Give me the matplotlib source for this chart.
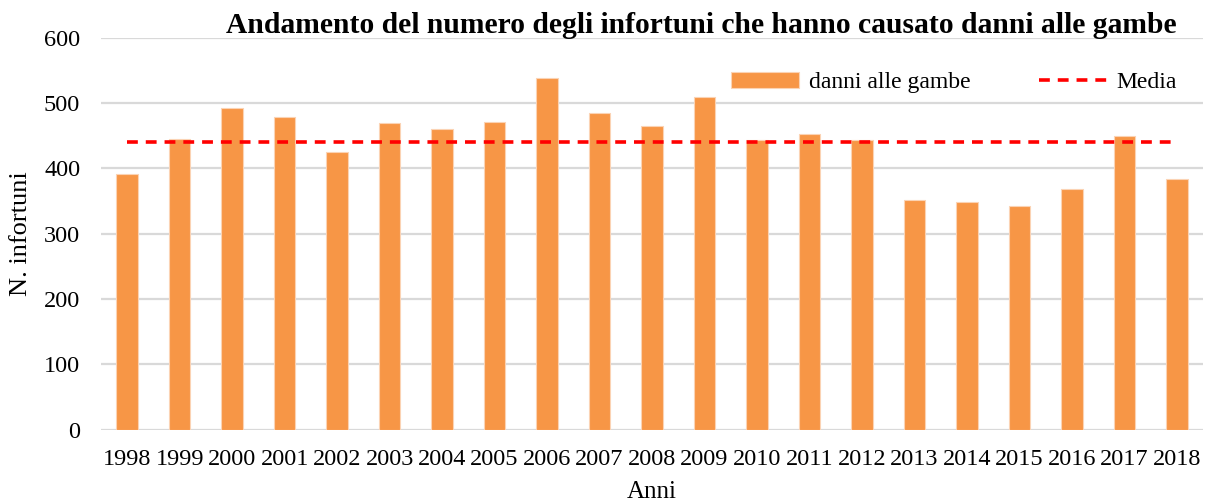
import matplotlib
matplotlib.use("Agg")
import matplotlib.pyplot as plt
import numpy as np

years = ["1998", "1999", "2000", "2001", "2002", "2003", "2004", "2005", "2006", "2007",
         "2008", "2009", "2010", "2011", "2012", "2013", "2014", "2015", "2016", "2017", "2018"]
danni_gambe = [391, 445, 493, 478, 425, 470, 460, 471, 539, 485,
               465, 509, 443, 453, 443, 352, 349, 342, 368, 450, 384]
media_value = 441

title = "Andamento del numero degli infortuni che hanno causato danni alle gambe"
ylabel = "N. infortuni"
xlabel = "Anni"
yticks = [0, 100, 200, 300, 400, 500, 600]

plt.rcParams['font.family'] = ['Liberation Serif', 'DejaVu Serif']

W, H = 1205, 504
fig = plt.figure(figsize=(W / 100, H / 100), dpi=100)
ax = fig.add_axes([101 / W, (H - 429.7) / H, (1203 - 101) / W, (429.7 - 37.7) / H])

x = np.arange(len(years))
bars = ax.bar(x, danni_gambe, width=0.41, color="#F79646", edgecolor="#FBD3B4",
              linewidth=0.8, label="danni alle gambe", zorder=2)
line, = ax.plot(x, [media_value] * len(years), color="#FF0000", linestyle=(0, (3, 2.2)),
                linewidth=2.6, label="Media", zorder=3)

ax.set_xlim(-0.5, len(years) - 0.5)
ax.set_ylim(0, 600)
ax.set_yticks(yticks)
ax.set_xticks(x)
ax.set_xticklabels(years)
ax.tick_params(axis="both", length=0, labelsize=17.5, colors="black")
ax.tick_params(axis="y", pad=15)
ax.tick_params(axis="x", pad=14)
ax.grid(axis="y", color="#D9D9D9", linewidth=1.6, zorder=0)
ax.set_axisbelow(True)
for s in ax.spines.values():
    s.set_visible(False)

fig.text(701 / W, 1 - 33 / H, title, ha="center", va="baseline", fontsize=21.3, fontweight="bold")
fig.text(21 / W, 1 - 234 / H, ylabel, ha="center", va="center", rotation=90, fontsize=19)
fig.text(652 / W, 1 - 492 / H, xlabel, ha="center", va="center", fontsize=18)

leg = ax.legend(handles=[bars, line], ncol=2, frameon=False, fontsize=17, loc="center",
                bbox_to_anchor=((954 - 101) / (1203 - 101), (429.7 - 82.7) / 392),
                handlelength=2.9, handleheight=0.7, columnspacing=2.9, handletextpad=0.4)

fig.savefig("out.png", dpi=100)
